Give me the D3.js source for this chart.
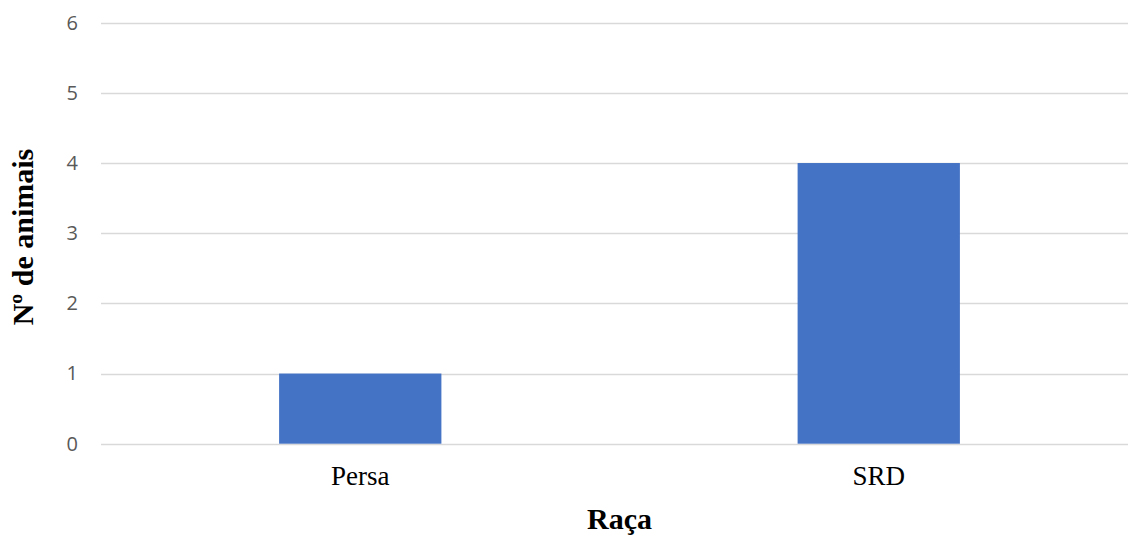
<!DOCTYPE html>
<html>
<head>
<meta charset="utf-8">
<script src="https://cdn.jsdelivr.net/npm/d3@7"></script>
<style>
    body { margin: 0; background: #fff; }
    svg { display: block; }
</style>
</head>
<body>
<svg id="chart" width="1128" height="535"></svg>
<script>
// data
const racas = ["Persa", "SRD"];
const animais = [1, 4];
const yTicks = [0, 1, 2, 3, 4, 5, 6];

let svg = d3.select('#chart');

// plot area (right side runs a bit past the picture edge)
let plotLeft = 101, plotRight = 1138, plotTop = 22.7, plotBottom = 443.7;

let xScale = d3.scaleBand()
    .domain(racas)
    .range([plotLeft, plotRight])
    .paddingInner(0.687)
    .paddingOuter(0.687 / 2);

let yScale = d3.scaleLinear()
    .domain([0, 6])
    .range([plotBottom, plotTop]);

// gridlines
svg.append("g")
    .selectAll("line")
    .data(yTicks)
    .enter().append("line")
    .attr("x1", plotLeft)
    .attr("x2", plotRight)
    .attr("y1", d => Math.round(yScale(d)) + 0.5)
    .attr("y2", d => Math.round(yScale(d)) + 0.5)
    .attr("stroke", "#d9d9d9")
    .attr("stroke-width", 1.3);

// y axis labels
let yAxis = d3.axisLeft(yScale)
    .tickValues(yTicks)
    .tickFormat(d3.format("d"))
    .tickSize(0)
    .tickPadding(0);
let yG = svg.append("g")
    .attr("transform", "translate(78,0)")
    .call(yAxis);
yG.select(".domain").remove();
yG.selectAll("text")
    .attr("fill", "#595959")
    .style("font-family", "'Open Sans', sans-serif")
    .style("font-size", "20px");

// bars
svg.append("g")
    .selectAll("rect")
    .data(animais)
    .enter().append("rect")
    .attr("x", (d, i) => xScale(racas[i]))
    .attr("width", xScale.bandwidth())
    .attr("y", d => yScale(d))
    .attr("height", d => yScale(0) - yScale(d))
    .attr("fill", "#4472c4");

// x axis labels
let xAxis = d3.axisBottom(xScale).tickSize(0).tickPadding(0);
let xG = svg.append("g")
    .attr("transform", "translate(0,466)")
    .call(xAxis);
xG.select(".domain").remove();
xG.selectAll("text")
    .attr("fill", "#000")
    .attr("dy", "0.71em")
    .style("font-family", "'Liberation Serif', 'Times New Roman', serif")
    .style("font-size", "27px");

// axis titles
svg.append("text")
    .attr("x", (plotLeft + plotRight) / 2)
    .attr("y", 529)
    .attr("text-anchor", "middle")
    .style("font-family", "'Liberation Serif', 'Times New Roman', serif")
    .style("font-weight", "bold")
    .style("font-size", "30px")
    .text("Raça");

svg.append("text")
    .attr("transform", "translate(33,237) rotate(-90)")
    .attr("text-anchor", "middle")
    .style("font-family", "'Liberation Serif', 'Times New Roman', serif")
    .style("font-weight", "bold")
    .style("font-size", "30px")
    .text("Nº de animais");
</script>
</body>
</html>
